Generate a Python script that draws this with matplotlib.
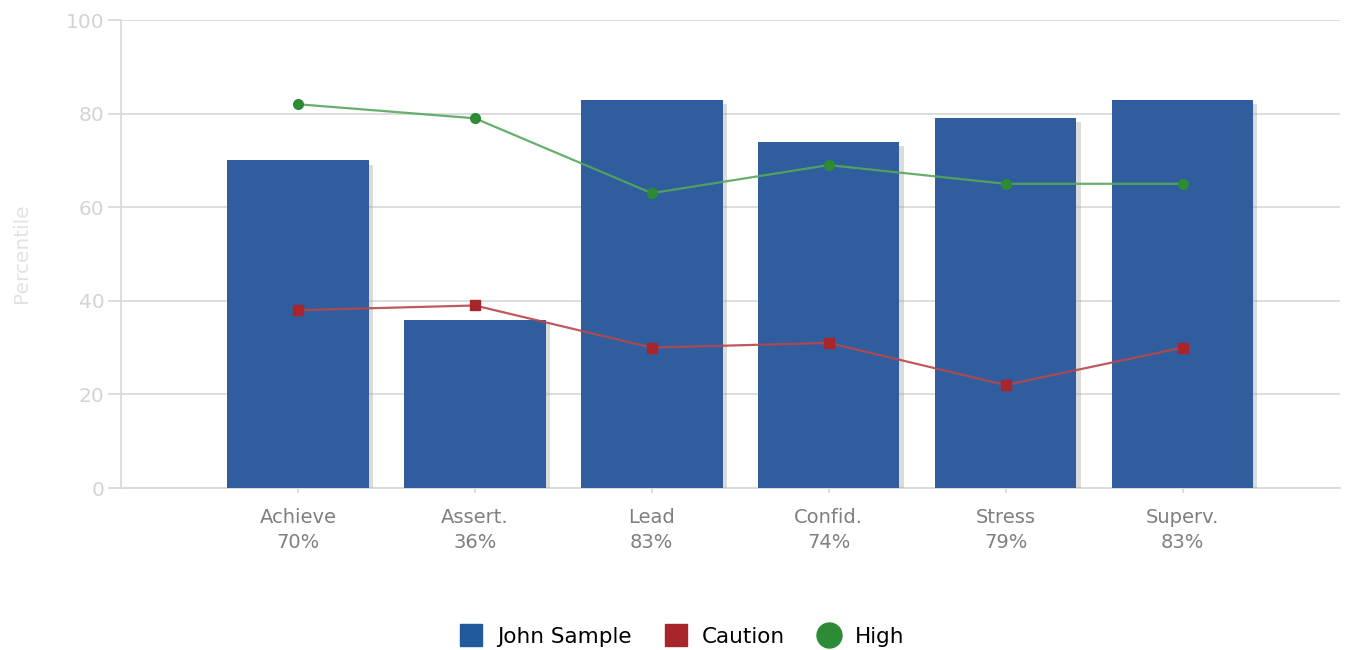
import numpy as np
import matplotlib.pyplot as plt
import matplotlib.patheffects as pe
from matplotlib.lines import Line2D

categories = ['Achieve', 'Assert.', 'Lead', 'Confid.', 'Stress', 'Superv.']
john_sample = [70, 36, 83, 74, 79, 83]
caution = [38, 39, 30, 31, 22, 30]
high = [82, 79, 63, 69, 65, 65]

bar_color = '#305d9d'
red = '#a8262b'
green = '#2e8b35'
grid_color = '#dadada'

plt.rcParams['font.family'] = ['DejaVu Sans']

fig = plt.figure(figsize=(13.45, 6.5), dpi=100)
ax = fig.add_axes([121 / 1345, 1 - 488 / 650, (1340 - 121) / 1345, (488 - 20) / 650])

x = np.arange(len(categories))

# bars with a soft drop shadow
bars = ax.bar(x, john_sample, width=0.8, color=bar_color, zorder=3)
for b in bars:
    b.set_path_effects([pe.SimplePatchShadow(offset=(3, -3), shadow_rgbFace='#999999', alpha=0.35),
                        pe.Normal()])

ax.plot(x, caution, color='#b8474c', lw=1.6, alpha=0.9, zorder=4)
ax.plot(x, caution, 's', color=red, ms=7, zorder=5)
ax.plot(x, high, color='#55a85c', lw=1.6, alpha=0.9, zorder=4)
ax.plot(x, high, 'o', color=green, ms=7, zorder=5)

ax.set_xlim(-1, 5.89)
ax.set_ylim(0, 100)
ax.set_yticks(np.arange(0, 101, 20))
ax.yaxis.grid(True, color=grid_color, lw=1.3, zorder=0)
ax.set_axisbelow(True)

ax.set_xticks(x)
ax.set_xticklabels([f'{c}\n{v}%' for c, v in zip(categories, john_sample)],
                   color='#7f7f7f', fontsize=14, linespacing=1.35)
ax.tick_params(axis='x', length=3.6, color=grid_color, width=1.3, pad=11)
ax.tick_params(axis='y', length=9.5, color=grid_color, width=1.3, labelcolor='#d3d3d3',
               labelsize=14.5, pad=2.5)

for s in ['top', 'right']:
    ax.spines[s].set_visible(False)
ax.spines['left'].set_color(grid_color)
ax.spines['left'].set_linewidth(1.3)
ax.spines['bottom'].set_color(grid_color)
ax.spines['bottom'].set_linewidth(1.3)

fig.text(22 / 1345, 1 - 253 / 650, 'Percentile', rotation=90, color='#e2e2e2',
         fontsize=14.5, ha='center', va='center')

handles = [
    Line2D([], [], ls='', marker='s', ms=16, color='#215a9c'),
    Line2D([], [], ls='', marker='s', ms=16, color=red),
    Line2D([], [], ls='', marker='o', ms=18, color=green),
]
fig.legend(handles, ['John Sample', 'Caution', 'High'], loc='center',
           bbox_to_anchor=(682 / 1345, 1 - 637 / 650), ncol=3, frameon=False,
           fontsize=15.5, handletextpad=0.65, columnspacing=1.5, handlelength=1.1)

fig.savefig('out.png', dpi=100)
